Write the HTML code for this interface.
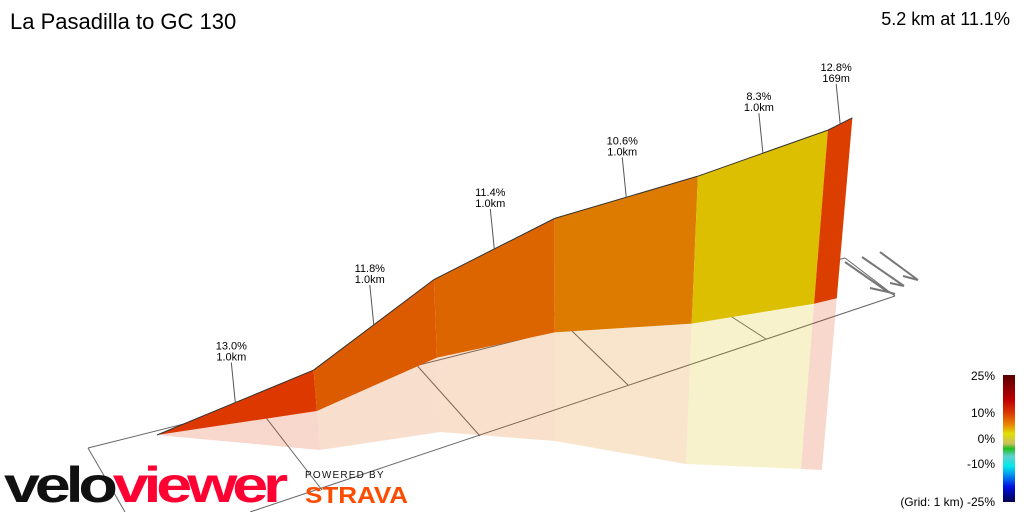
<!DOCTYPE html>
<html><head><meta charset="utf-8"><style>
html,body{margin:0;padding:0;background:#fff;}
body{width:1024px;height:512px;overflow:hidden;font-family:"Liberation Sans",sans-serif;}
svg text{font-family:"Liberation Sans","DejaVu Sans",sans-serif;}
</style></head><body>
<svg id="chart" width="1024" height="512" viewBox="0 0 1024 512" xmlns="http://www.w3.org/2000/svg">
<defs>
<linearGradient id="cbar" x1="0" y1="0" x2="0" y2="1">
<stop offset="0" stop-color="#5a0000"/><stop offset="0.2" stop-color="#c00000"/>
<stop offset="0.3" stop-color="#dc3800"/><stop offset="0.4" stop-color="#e89000"/>
<stop offset="0.46" stop-color="#e0e000"/><stop offset="0.54" stop-color="#c8c060"/>
<stop offset="0.58" stop-color="#20c020"/><stop offset="0.64" stop-color="#60d0d0"/>
<stop offset="0.72" stop-color="#00e8e8"/><stop offset="0.8" stop-color="#0080f0"/>
<stop offset="0.88" stop-color="#0010e0"/><stop offset="1" stop-color="#000050"/>
</linearGradient>
</defs>
<text x="10" y="29" font-size="22" fill="#000">La Pasadilla to GC 130</text>
<text x="1010" y="25" font-size="18" fill="#000" text-anchor="end">5.2 km at 11.1%</text>
<g id="grid" stroke="#666" stroke-width="1" fill="none">
<path d="M88,448 L845,258"/>
<path d="M88,448 L125,512"/>
<path d="M845,258 L895,296"/>
<path d="M250,512 L895,296"/>
<path d="M250,397 L322,490"/>
<path d="M405,352 L480,436"/>
<path d="M545,305 L628,385"/>
<path d="M715,306 L766,339"/>
</g>
<g id="walls"></g>
<g id="ribbon"></g>
<g id="labels"></g>
<g stroke="#777" stroke-width="2" fill="none">
<path d="M845,262 L888,292 L895,294 M888,292 L870,288"/>
<path d="M862,257 L904,286 M904,286 L890,283"/>
<path d="M880,252 L918,280 M918,280 L903,276"/>
</g>
<g>
<rect x="1003" y="375" width="12" height="127" fill="url(#cbar)"/>
<g font-size="12" fill="#000" text-anchor="end">
<text x="995" y="380">25%</text>
<text x="995" y="417">10%</text>
<text x="995" y="443">0%</text>
<text x="995" y="468">-10%</text>
<text x="995" y="506">(Grid: 1 km) -25%</text>
</g>
</g>
<g font-weight="bold" font-size="50" letter-spacing="-4">
<text x="4" y="502" textLength="279" lengthAdjust="spacingAndGlyphs"><tspan fill="#111">velo</tspan><tspan fill="#ff0033">viewer</tspan></text>
</g>
<text x="305" y="478" font-size="10" letter-spacing="1.2" fill="#111">POWERED BY</text>
<text x="305" y="503" font-size="23" font-weight="bold" fill="#fc4c02" textLength="103" lengthAdjust="spacingAndGlyphs">STRAVA</text>
</svg>
<script>
const gradients = [13.0, 11.8, 11.4, 10.6, 8.3, 12.8];
const lengthsKm = [1.0, 1.0, 1.0, 1.0, 1.0, 0.169];
const lengthLabels = ["1.0km", "1.0km", "1.0km", "1.0km", "1.0km", "169m"];
const trackA = [0, 0.807, 1.532, 2.109, 2.708, 3.303, 3.411];
const trackB = [0, 0.651, 0.728, 1.165, 1.839, 2.221, 2.292];

const NS = "http://www.w3.org/2000/svg";
const origin = [157, 435], axA = [160, -31.4], axB = [52, 62];
const topScale = 0.615, lowScale = 0.30, vanishX = 560, lean = 0.00033;
function ground(i){ return [origin[0]+trackA[i]*axA[0]+trackB[i]*axB[0], origin[1]+trackA[i]*axA[1]+trackB[i]*axB[1]]; }
const elev = [0];
for (let i=0;i<gradients.length;i++) elev.push(elev[i] + gradients[i]/100*lengthsKm[i]*1000);
function raise(i, s){ const g=ground(i); const h=elev[i]*s; return [g[0]+(g[0]-vanishX)*lean*h, g[1]-h]; }
function topPt(i){ return raise(i, topScale); }
function lowPt(i){ return raise(i, lowScale); }
const stops = [[25,[90,0,0]],[20,[192,0,0]],[13,[220,56,0]],[10,[220,140,0]],[8,[220,200,0]],[5,[224,224,0]],[0,[32,192,32]],[-10,[0,232,232]],[-25,[0,0,80]]];
function colorFor(g){
  for (let i=0;i<stops.length-1;i++){
    const [g1,c1]=stops[i],[g2,c2]=stops[i+1];
    if (g<=g1 && g>=g2){ const t=(g1-g)/(g1-g2); return "rgb("+c1.map((v,k)=>Math.round(v+(c2[k]-v)*t)).join(",")+")"; }
  }
  return "rgb(0,0,80)";
}
const P = p => p[0].toFixed(1)+","+p[1].toFixed(1);
const walls=document.getElementById("walls"), ribbon=document.getElementById("ribbon"), labels=document.getElementById("labels");
for (let i=0;i<gradients.length;i++){
  const col = colorFor(gradients[i]);
  const w = document.createElementNS(NS,"polygon");
  w.setAttribute("points", [lowPt(i),lowPt(i+1),ground(i+1),ground(i)].map(P).join(" "));
  w.setAttribute("fill", col); w.setAttribute("fill-opacity","0.2");
  
  
  walls.appendChild(w);
  const r = document.createElementNS(NS,"polygon");
  r.setAttribute("points", [topPt(i),topPt(i+1),lowPt(i+1),lowPt(i)].map(P).join(" "));
  r.setAttribute("fill", col);
  
  
  ribbon.appendChild(r);
  const e = document.createElementNS(NS,"line");
  const a=topPt(i), b=topPt(i+1);
  e.setAttribute("x1",a[0]); e.setAttribute("y1",a[1]); e.setAttribute("x2",b[0]); e.setAttribute("y2",b[1]);
  e.setAttribute("stroke","#333"); e.setAttribute("stroke-width","1");
  
  
  ribbon.appendChild(e);
  const mx=(a[0]+b[0])/2, my=(a[1]+b[1])/2;
  const ld = document.createElementNS(NS,"line");
  ld.setAttribute("x1",mx); ld.setAttribute("y1",my); ld.setAttribute("x2",mx-4); ld.setAttribute("y2",my-40);
  ld.setAttribute("stroke","#555"); ld.setAttribute("stroke-width","1");
  
  
  labels.appendChild(ld);
  const t1 = document.createElementNS(NS,"text");
  t1.setAttribute("x",mx-4); t1.setAttribute("y",my-53); t1.setAttribute("font-size","11"); t1.setAttribute("text-anchor","middle");
  t1.textContent = gradients[i].toFixed(1)+"%";
  
  
  labels.appendChild(t1);
  const t2 = document.createElementNS(NS,"text");
  t2.setAttribute("x",mx-4); t2.setAttribute("y",my-42); t2.setAttribute("font-size","11"); t2.setAttribute("text-anchor","middle");
  t2.textContent = lengthLabels[i];
  
  
  labels.appendChild(t2);
}
</script>
</body></html>
